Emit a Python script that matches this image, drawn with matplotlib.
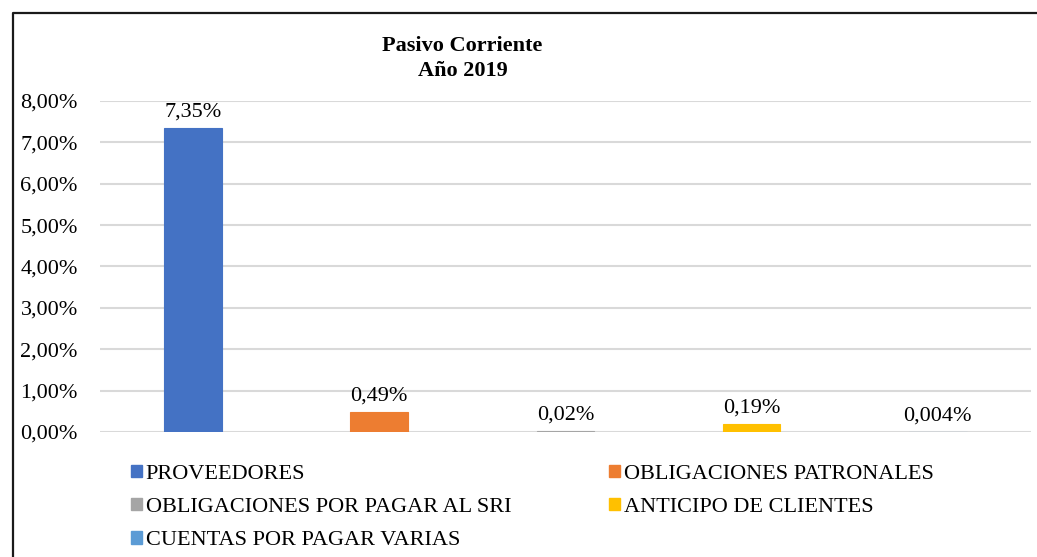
import matplotlib.pyplot as plt
from matplotlib.lines import Line2D
from matplotlib.patches import Patch

# datos del pasivo corriente 2019
categorias = ['PROVEEDORES', 'OBLIGACIONES PATRONALES', 'OBLIGACIONES POR PAGAR AL SRI',
              'ANTICIPO DE CLIENTES', 'CUENTAS POR PAGAR VARIAS']
valores = [7.35, 0.49, 0.02, 0.19, 0.004]
etiquetas = ['7,35%', '0,49%', '0,02%', '0,19%', '0,004%']
colores = ['#4472C4', '#ED7D31', '#A5A5A5', '#FFC000', '#5B9BD5']
ticks_y = [0, 1, 2, 3, 4, 5, 6, 7, 8]

plt.rcParams['font.family'] = ['Liberation Serif', 'DejaVu Serif']

fig = plt.figure(figsize=(10.37, 5.57), dpi=100)
ax = fig.add_axes([0.0964, 0.2244, 0.8976, 0.5943])

x = list(range(len(valores)))
# borde del mismo color para que las barras muy pequeñas se vean
ax.bar(x, valores, width=0.31, color=colores, edgecolor=colores, linewidth=0.8, zorder=3)
for i in x:
    ax.text(i, valores[i] + 0.15, etiquetas[i], ha='center', va='bottom', fontsize=16)

ax.set_xlim(-0.5, len(valores) - 0.5)
ax.set_ylim(0, 8)
ax.set_yticks(ticks_y)
ax.set_yticklabels(['%d,00%%' % t for t in ticks_y], fontsize=16)
ax.set_xticks([])
ax.tick_params(axis='y', length=0, pad=16)
ax.grid(axis='y', color='#D9D9D9', linewidth=1.5, zorder=0)
for s in ax.spines.values():
    s.set_visible(False)

# titulo
fig.text(0.446, 0.895, 'Pasivo Corriente\nAño 2019', ha='center', va='center',
         fontsize=16, fontweight='bold', linespacing=1.3)

# leyenda en dos columnas (orden por filas)
orden = [0, 2, 4, 1, 3]
handles = [Patch(color=colores[i]) for i in orden]
fig.legend(handles, [categorias[i] for i in orden], ncol=2, frameon=False,
           loc='upper left', bbox_to_anchor=(0.1267, 0.166), fontsize=16,
           handlelength=0.5, handleheight=0.5, handletextpad=0.15,
           columnspacing=4.4, labelspacing=0.63, borderpad=0, borderaxespad=0)

# marco del grafico
fig.add_artist(Line2D([13 / 1037, 13 / 1037, 1.0], [0.0, 1 - 13 / 557, 1 - 13 / 557],
                      transform=fig.transFigure, color='#1a1a1a', linewidth=1.6))

fig.savefig('out.png', dpi=100)
